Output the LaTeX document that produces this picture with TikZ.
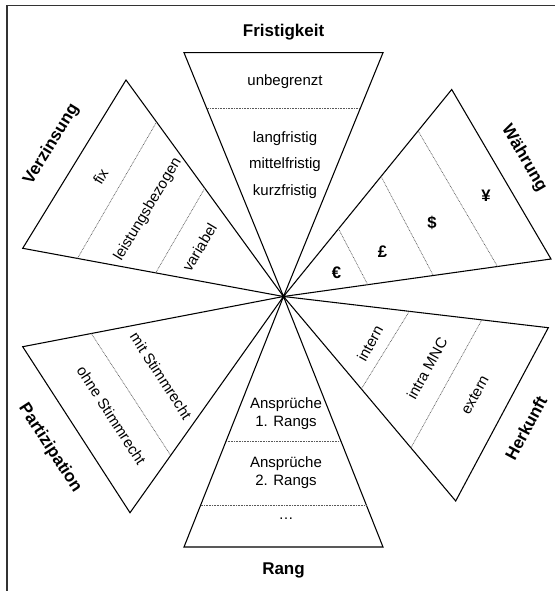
\documentclass[tikz,border=0pt]{standalone}
\usepackage{fontspec}
\setmainfont{Liberation Sans}
\usetikzlibrary{calc}
\begin{document}
\begin{tikzpicture}[x=0.75pt,y=-0.75pt,
  tri/.style={draw=black,line width=0.8pt,line join=miter},
  sep/.style={draw=black!65,line width=0.5pt,dash pattern=on 0.6pt off 0.6pt},
  frame/.style={draw=black!80,line width=1.2pt},
  lbl/.style={font=\bfseries\fontsize{12.75}{15}\selectfont,inner sep=0pt},
  txt/.style={font=\fontsize{11.25}{13.5}\selectfont,align=center,inner sep=0pt},
  sym/.style={font=\bfseries\fontsize{12.5}{15}\selectfont,inner sep=0pt}]
\useasboundingbox (0,0) rectangle (558,591);
% frame (open at right and bottom)
\coordinate (fa) at (7,591);
\coordinate (fb) at (7,5.7);
\coordinate (fc) at (555,5.7);
\draw[frame] (fa) -- (fb) -- (fc);
% centre and vertices
\coordinate (C) at (283.5,296.5);
\coordinate (FL) at (184,52.7);   \coordinate (FR) at (383,52.7);
\coordinate (VT) at (126,80);     \coordinate (VL) at (22.7,248.3);
\coordinate (WT) at (451.7,89.5); \coordinate (WR) at (551,259);
\coordinate (HR) at (548.3,327.7);\coordinate (HB) at (455.7,501);
\coordinate (PL) at (22.7,346.7); \coordinate (PB) at (130,512.7);
\coordinate (RL) at (184,547);    \coordinate (RR) at (383,547);
% triangles
\draw[tri] (C) -- (FL) -- (FR) -- cycle;
\draw[tri] (C) -- (VT) -- (VL) -- cycle;
\draw[tri] (C) -- (WT) -- (WR) -- cycle;
\draw[tri] (C) -- (HR) -- (HB) -- cycle;
\draw[tri] (C) -- (PL) -- (PB) -- cycle;
\draw[tri] (C) -- (RL) -- (RR) -- cycle;
% separators
\draw[sep] ($(C)!0.77!(FL)$) -- ($(C)!0.77!(FR)$);
\draw[sep] ($(C)!0.806!(VT)$) -- ($(C)!0.79!(VL)$);
\draw[sep] ($(C)!0.50!(VT)$) -- ($(C)!0.49!(VL)$);
\draw[sep] ($(C)!0.327!(WT)$) -- ($(C)!0.315!(WR)$);
\draw[sep] ($(C)!0.58!(WT)$) -- ($(C)!0.56!(WR)$);
\draw[sep] ($(C)!0.80!(WT)$) -- ($(C)!0.80!(WR)$);
\draw[sep] ($(C)!0.475!(HR)$) -- ($(C)!0.452!(HB)$);
\draw[sep] ($(C)!0.749!(HR)$) -- ($(C)!0.74!(HB)$);
\draw[sep] ($(C)!0.737!(PL)$) -- ($(C)!0.735!(PB)$);
\draw[sep] ($(C)!0.577!(RL)$) -- ($(C)!0.577!(RR)$);
\draw[sep] ($(C)!0.832!(RL)$) -- ($(C)!0.832!(RR)$);
% headings
\node[lbl] (lF) at (283.6,32.3) {Fristigkeit};
\node[lbl,rotate=58.5] (lV) at (51.5,144.5) {Verzinsung};
\node[lbl,rotate=-59.6] (lW) at (524,158) {Währung};
\node[lbl,rotate=62] (lH) at (526,428) {Herkunft};
\node[lbl,rotate=-57] (lP) at (50,448) {Partizipation};
\node[lbl] (lR) at (283.5,570) {Rang};
% Fristigkeit
\node[txt] (f1) at (285,81.7) {unbegrenzt};
\node[txt] (f2) at (285,138.3) {langfristig};
\node[txt] (f3) at (285,165) {mittelfristig};
\node[txt] (f4) at (285,191.7) {kurzfristig};
% Verzinsung
\node[txt,rotate=59] (v1) at (100.5,176.7) {fix};
\node[txt,rotate=59] (v2) at (148,209.5) {leistungsbezogen};
\node[txt,rotate=59] (v3) at (199.5,247.5) {variabel};
% Waehrung
\node[sym] (w1) at (336.5,273) {€};
\node[sym] (w2) at (382.5,252) {£};
\node[sym] (w3) at (432,222.7) {\$};
\node[sym] (w4) at (486,196) {¥};
% Herkunft
\node[txt,rotate=61] (h1) at (370,343.3) {intern};
\node[txt,rotate=61] (h2) at (427,368.3) {intra MNC};
\node[txt,rotate=61] (h3) at (475,395) {extern};
% Partizipation
\node[txt,rotate=-57] (p1) at (161,375.8) {mit Stimmrecht};
\node[txt,rotate=-57] (p2) at (111.5,415.5) {ohne Stimmrecht};
% Rang
\node[txt] (r1) at (286,413.3) {Ansprüche\\1. Rangs};
\node[txt] (r2) at (286,472.2) {Ansprüche\\2. Rangs};
\node[txt] (r3) at (286,519) {\dots};
\end{tikzpicture}
\end{document}
